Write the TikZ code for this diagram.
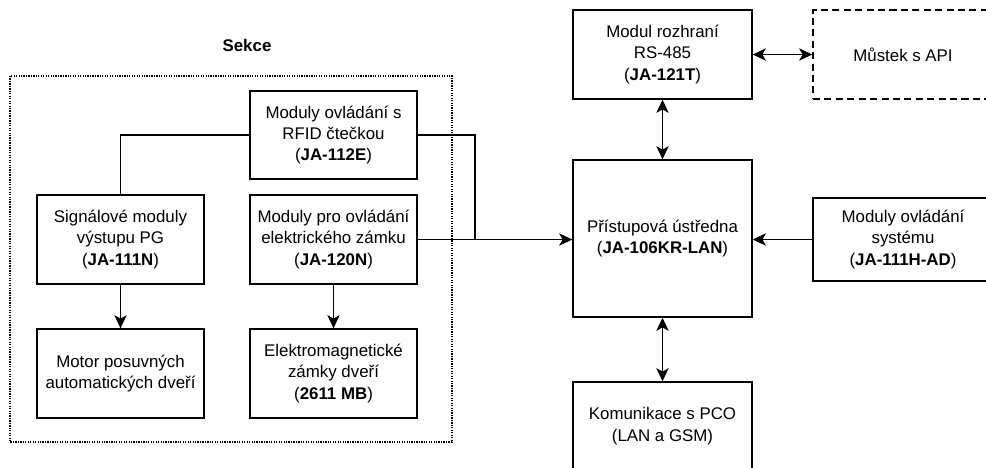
\documentclass[tikz,border=0pt]{standalone}
\usepackage{fontspec}
\setmainfont{Liberation Sans}
\usetikzlibrary{arrows.meta}

\tikzset{
  box/.style={draw, line width=0.8pt, align=center, inner sep=0pt,
              font=\fontsize{9.6}{12.2}\selectfont},
  dashbox/.style={box, dash pattern=on 4pt off 2.5pt},
  conn/.style={line width=0.7pt},
  arr/.style={conn, -{Stealth[length=7.5pt,width=7pt,inset=2pt]}},
  darr/.style={conn, {Stealth[length=7.5pt,width=7pt,inset=2pt]}-{Stealth[length=7.5pt,width=7pt,inset=2pt]}}
}

\begin{document}
\begin{tikzpicture}[x=0.02cm, y=-0.02cm]
\useasboundingbox (0,0) rectangle (986,467);

\draw[dash pattern=on 0.7pt off 0.7pt, line width=0.6pt] (10,76) rectangle (452,442);
\node[font=\fontsize{9.6}{12.2}\selectfont\bfseries] (sekce) at (247,45) {Sekce};

\node[box, minimum width=3.34cm, minimum height=1.76cm] (rfid) at (333.5,135)
  {Moduly ovládání s\\RFID čtečkou\\(\textbf{JA-112E})};
\node[box, minimum width=3.34cm, minimum height=1.78cm] (sig) at (120.5,239.5)
  {Signálové moduly\\výstupu PG\\(\textbf{JA-111N})};
\node[box, minimum width=3.34cm, minimum height=1.78cm] (zamek) at (333.5,239.5)
  {Moduly pro ovládání\\elektrického zámku\\(\textbf{JA-120N})};
\node[box, minimum width=3.34cm, minimum height=1.78cm] (motor) at (120.5,373.5)
  {Motor posuvných\\automatických dveří};
\node[box, minimum width=3.34cm, minimum height=1.78cm] (elmag) at (333.5,373.5)
  {Elektromagnetické\\zámky dveří\\(\textbf{2611 MB})};

\node[box, minimum width=3.58cm, minimum height=1.78cm] (rs) at (662.5,54.5)
  {Modul rozhraní\\RS-485\\(\textbf{JA-121T})};
\node[dashbox, minimum width=3.6cm, minimum height=1.78cm] (mustek) at (903,54.5)
  {Můstek s API};
\node[box, minimum width=3.58cm, minimum height=3.14cm] (ustredna) at (662.5,238.5)
  {Přístupová ústředna\\(\textbf{JA-106KR-LAN})};
\node[box, minimum width=3.6cm, minimum height=1.66cm] (system) at (903,239.5)
  {Moduly ovládání\\systému\\(\textbf{JA-111H-AD})};
\node[box, minimum width=3.58cm, minimum height=1.76cm] (pco) at (662.5,426)
  {Komunikace s PCO\\(LAN a GSM)};

\coordinate (jn) at (475,239.5);

\draw[conn] (rfid.west) -| (sig.north);
\draw[conn] (rfid.east) -| (jn);
\draw[arr] (zamek.east) -- (zamek.east -| ustredna.west);
\draw[arr] (sig) -- (motor);
\draw[arr] (zamek) -- (elmag);
\draw[darr] (rs) -- (mustek);
\draw[darr] (rs) -- (ustredna);
\draw[arr] (system.west) -- (system.west -| ustredna.east);
\draw[darr] (ustredna) -- (pco);
\end{tikzpicture}
\end{document}
